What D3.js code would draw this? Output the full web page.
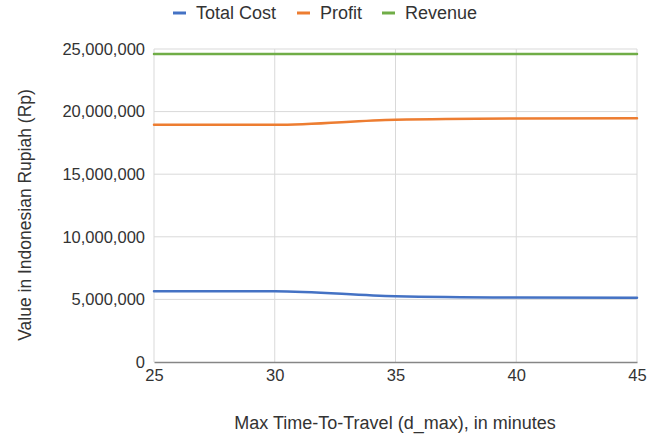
<!DOCTYPE html>
<html>
<head>
<meta charset="utf-8">
<script src="https://cdn.jsdelivr.net/npm/d3@7"></script>
<style>
  body { margin: 0; background: #fff; }
  text { font-family: "Liberation Sans", Arial, sans-serif; fill: #333; }
</style>
</head>
<body>
<svg id="chart" width="662" height="443"></svg>
<script>
// data
var dMax = [25, 30, 35, 40, 45];
var totalCost = [5650000, 5650000, 5250000, 5150000, 5130000];
var profit = [18950000, 18950000, 19350000, 19450000, 19470000];
var revenue = [24600000, 24600000, 24600000, 24600000, 24600000];
var seriesNames = ['Total Cost', 'Profit', 'Revenue'];
var seriesColors = ['#4472c4', '#ed7d31', '#70ad47'];
var yTicks = [0, 5000000, 10000000, 15000000, 20000000, 25000000];

var svg = d3.select('#chart');
var plotL = 154, plotR = 637, plotT = 49, plotB = 362;

var x = d3.scaleLinear().domain([25, 45]).range([plotL, plotR]);
var y = d3.scaleLinear().domain([0, 25000000]).range([plotB, plotT]);

// grid
svg.append('g').selectAll('line').data(yTicks.slice(1)).enter().append('line')
    .attr('x1', plotL).attr('x2', plotR)
    .attr('y1', function(d){ return y(d); }).attr('y2', function(d){ return y(d); })
    .attr('stroke', '#d9d9d9').attr('stroke-width', 1);
svg.append('g').selectAll('line').data(dMax).enter().append('line')
    .attr('x1', function(d){ return x(d); }).attr('x2', function(d){ return x(d); })
    .attr('y1', plotT).attr('y2', plotB)
    .attr('stroke', '#d9d9d9').attr('stroke-width', 1);

// axes
var yAxis = d3.axisLeft(y).tickValues(yTicks).tickSize(0).tickPadding(9)
    .tickFormat(function(d){ return d3.format(',')(d); });
var gy = svg.append('g').attr('transform', 'translate(' + plotL + ',0)').call(yAxis);
gy.select('.domain').remove();
gy.selectAll('text').style('font-size', '16.5px').style('font-family', '"Liberation Sans", Arial, sans-serif').attr('fill', '#333');

var xAxis = d3.axisBottom(x).tickValues(dMax).tickSize(0).tickPadding(7);
var gx = svg.append('g').attr('transform', 'translate(0,' + plotB + ')').call(xAxis);
gx.select('.domain').attr('stroke', '#868686').attr('stroke-width', 1.3);
gx.selectAll('text').style('font-size', '16.5px').style('font-family', '"Liberation Sans", Arial, sans-serif').attr('fill', '#333');

// lines
var allSeries = [totalCost, profit, revenue];
var line = d3.line()
    .x(function(d, i){ return x(dMax[i]); })
    .y(function(d){ return y(d); })
    .curve(d3.curveMonotoneX);
svg.append('g').selectAll('path').data(allSeries).enter().append('path')
    .attr('d', line)
    .attr('fill', 'none')
    .attr('stroke', function(d, i){ return seriesColors[i]; })
    .attr('stroke-width', 2.5)
    .attr('stroke-linecap', 'round');

// legend
var legendX = [173, 297, 382];
var lg = svg.append('g').selectAll('g').data(seriesNames).enter().append('g')
    .attr('transform', function(d, i){ return 'translate(' + legendX[i] + ',13)'; });
lg.append('line').attr('x1', 0).attr('x2', 13).attr('y1', 0).attr('y2', 0)
    .attr('stroke', function(d, i){ return seriesColors[i]; }).attr('stroke-width', 3);
lg.append('text').attr('x', 23).attr('y', 0).attr('dy', '0.35em')
    .style('font-size', '18px').text(function(d){ return d; });

// axis titles
svg.append('text')
    .attr('transform', 'translate(25,215) rotate(-90)')
    .attr('text-anchor', 'middle').attr('dy', '0.35em')
    .style('font-size', '17.5px')
    .text('Value in Indonesian Rupiah (Rp)');
svg.append('text')
    .attr('x', 395).attr('y', 423)
    .attr('text-anchor', 'middle').attr('dy', '0.35em')
    .style('font-size', '18px')
    .text('Max Time-To-Travel (d_max), in minutes');
</script>
</body>
</html>
